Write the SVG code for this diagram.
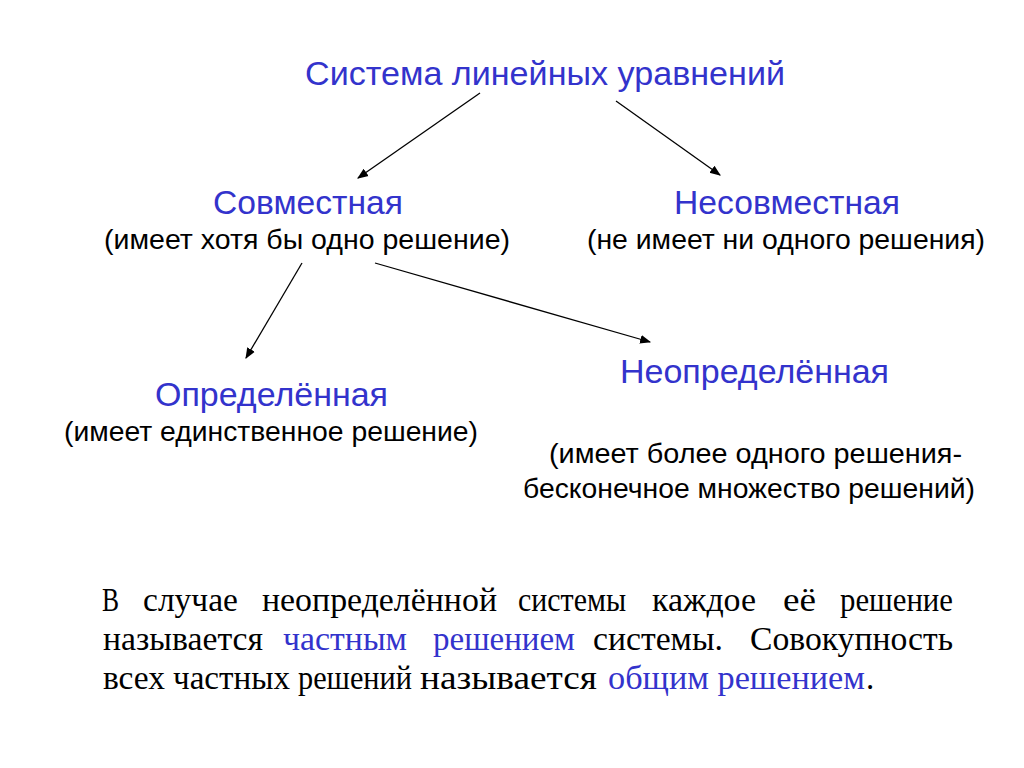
<svg xmlns="http://www.w3.org/2000/svg" width="1024" height="768" viewBox="0 0 1024 768">
  <defs>
    <marker id="arrow" viewBox="0 0 10 10" refX="9" refY="5" markerWidth="11" markerHeight="11" markerUnits="userSpaceOnUse" orient="auto">
      <path d="M0,1 L10,5 L0,9 z" fill="#000"/>
    </marker>
    <style>
      .head { font-family: "Liberation Sans", Arial, sans-serif; font-size: 33px; fill: #3333cc; }
      .note { font-family: "Liberation Sans", Arial, sans-serif; font-size: 27px; fill: #000; }
      .body { font-family: "Liberation Serif", "Times New Roman", serif; font-size: 33px; fill: #000; }
      .term { fill: #3333cc; }
      .link { stroke: #000; stroke-width: 1.3; fill: none; marker-end: url(#arrow); }
    </style>
  </defs>
  <rect width="1024" height="768" fill="#fff"/>

  <g id="connectors">
    <line class="link" x1="480" y1="93" x2="358" y2="178"/>
    <line class="link" x1="616" y1="101" x2="720" y2="175"/>
    <line class="link" x1="302" y1="263" x2="246" y2="358"/>
    <line class="link" x1="375" y1="263" x2="650" y2="342"/>
  </g>

  <g id="node-system">
    <text class="head" x="305" y="85" textLength="480" lengthAdjust="spacingAndGlyphs">Система линейных уравнений</text>
  </g>

  <g id="node-consistent">
    <text class="head" x="213" y="214" textLength="190" lengthAdjust="spacingAndGlyphs">Совместная</text>
    <text class="note" x="104" y="249" textLength="406" lengthAdjust="spacingAndGlyphs">(имеет хотя бы одно решение)</text>
  </g>

  <g id="node-inconsistent">
    <text class="head" x="674" y="214" textLength="226" lengthAdjust="spacingAndGlyphs">Несовместная</text>
    <text class="note" x="587" y="249" textLength="398" lengthAdjust="spacingAndGlyphs">(не имеет ни одного решения)</text>
  </g>

  <g id="node-determinate">
    <text class="head" x="155" y="406" textLength="233" lengthAdjust="spacingAndGlyphs">Определённая</text>
    <text class="note" x="64" y="441" textLength="414" lengthAdjust="spacingAndGlyphs">(имеет единственное решение)</text>
  </g>

  <g id="node-indeterminate">
    <text class="head" x="620" y="383" textLength="269" lengthAdjust="spacingAndGlyphs">Неопределённая</text>
    <text class="note" x="549" y="463" textLength="413" lengthAdjust="spacingAndGlyphs">(имеет более одного решения-</text>
    <text class="note" x="523" y="498" textLength="452" lengthAdjust="spacingAndGlyphs">бесконечное множество решений)</text>
  </g>

  <!-- justified paragraph, one word per text run -->
  <g id="paragraph" class="body">
    <text x="102" y="611" textLength="17" lengthAdjust="spacingAndGlyphs">В</text>
    <text x="143" y="611" textLength="95" lengthAdjust="spacingAndGlyphs">случае</text>
    <text x="262" y="611" textLength="235" lengthAdjust="spacingAndGlyphs">неопределённой</text>
    <text x="518" y="611" textLength="108" lengthAdjust="spacingAndGlyphs">системы</text>
    <text x="652" y="611" textLength="104" lengthAdjust="spacingAndGlyphs">каждое</text>
    <text x="783" y="611" textLength="33" lengthAdjust="spacingAndGlyphs">её</text>
    <text x="840" y="611" textLength="113" lengthAdjust="spacingAndGlyphs">решение</text>

    <text x="103" y="650" textLength="160" lengthAdjust="spacingAndGlyphs">называется</text>
    <text class="term" x="283" y="650" textLength="124" lengthAdjust="spacingAndGlyphs">частным</text>
    <text class="term" x="433" y="650" textLength="142" lengthAdjust="spacingAndGlyphs">решением</text>
    <text x="593" y="650" textLength="130" lengthAdjust="spacingAndGlyphs">системы.</text>
    <text x="750" y="650" textLength="203" lengthAdjust="spacingAndGlyphs">Совокупность</text>

    <text x="103" y="689" textLength="62" lengthAdjust="spacingAndGlyphs">всех</text>
    <text x="173" y="689" textLength="117" lengthAdjust="spacingAndGlyphs">частных</text>
    <text x="298" y="689" textLength="114" lengthAdjust="spacingAndGlyphs">решений</text>
    <text x="420" y="689" textLength="177" lengthAdjust="spacingAndGlyphs">называется</text>
    <text class="term" x="608" y="689" textLength="257" lengthAdjust="spacingAndGlyphs">общим решением</text>
    <text x="866" y="689">.</text>
  </g>
</svg>
